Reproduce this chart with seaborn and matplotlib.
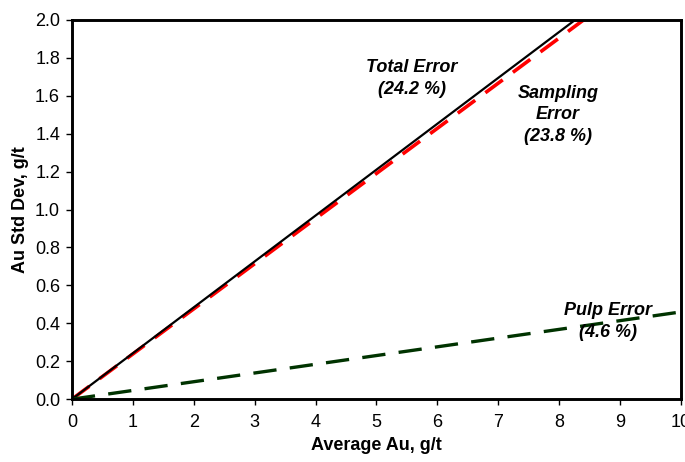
import numpy as np
import pandas as pd
import seaborn as sns
from matplotlib import pyplot as plt

sns.set_style('white')
plt.rcParams['font.family'] = ['Liberation Sans', 'DejaVu Sans']
plt.rcParams['text.color'] = 'black'
plt.rcParams['axes.labelcolor'] = 'black'
plt.rcParams['xtick.color'] = 'black'
plt.rcParams['ytick.color'] = 'black'

# values
avg_au = [0, 10]
total_err = [0, 2.42]
sampling_err = [0, 2.38]
pulp_err = [0, 0.46]

fig = plt.figure(figsize=(6.85, 4.62), dpi=100)
ax = fig.add_axes([0.105, 0.136, 0.889, 0.821])

sns.lineplot(x=avg_au, y=sampling_err, color='#ff0000', lw=2.6, ax=ax,
             linestyle=(0, (6, 3.5)))
sns.lineplot(x=avg_au, y=total_err, color='black', lw=1.6, ax=ax)
sns.lineplot(x=avg_au, y=pulp_err, color='#003300', lw=2.4, ax=ax,
             linestyle=(0, (7, 4)))

ax.set_xlim(0, 10)
ax.set_ylim(0, 2.0)
ax.set_xticks(np.arange(0, 11, 1))
ax.set_yticks(np.arange(0, 2.01, 0.2))
ax.set_yticklabels([f'{v:.1f}' for v in np.arange(0, 2.01, 0.2)])

for s in ax.spines.values():
    s.set_visible(True)
    s.set_color('black')
    s.set_linewidth(2.1)
ax.tick_params(axis='both', direction='out', length=4, width=1,
               labelsize=13, bottom=True, left=True)
ax.tick_params(axis='x', pad=6.5)
ax.tick_params(axis='y', pad=4.5)

ax.set_xlabel('Average Au, g/t', fontsize=13, fontweight='bold', labelpad=4.5)
ax.set_ylabel('Au Std Dev, g/t', fontsize=13, fontweight='bold', labelpad=4.5)

kw = dict(fontsize=13, fontweight='bold', style='italic', ha='center',
          va='center', linespacing=1.35)
ax.text(5.58, 1.69, 'Total Error\n(24.2 %)', **kw)
ax.text(7.98, 1.50, 'Sampling\nError\n(23.8 %)', **kw)
ax.text(8.80, 0.41, 'Pulp Error\n(4.6 %)', **kw)

plt.savefig('out.png', dpi=100)
